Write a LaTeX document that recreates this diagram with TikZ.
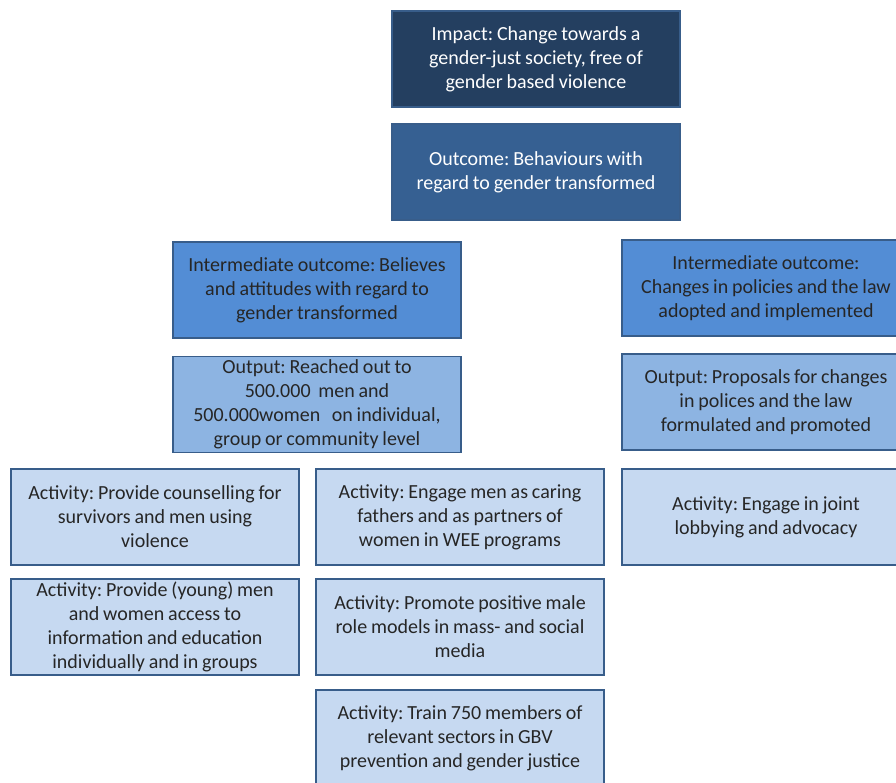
\documentclass[tikz,border=0pt]{standalone}
\usepackage{fontspec}
\setmainfont{Carlito}[WordSpace=0.85]
\frenchspacing
\definecolor{impactblue}{HTML}{243F60}
\definecolor{outcomeblue}{HTML}{366092}
\definecolor{interblue}{HTML}{538DD5}
\definecolor{outputblue}{HTML}{8DB4E2}
\definecolor{activityblue}{HTML}{C6D9F1}
\definecolor{edgeblue}{HTML}{385D8A}
\definecolor{darktext}{HTML}{262626}
\tikzset{
  frame/.style={draw=edgeblue, line width=0.8pt, minimum width=144pt, minimum height=48pt,
    align=center, inner sep=1pt, font=\fontsize{10}{12}\selectfont},
  impactbox/.style={frame, fill=impactblue, text=white},
  outcomebox/.style={frame, fill=outcomeblue, text=white},
  interbox/.style={frame, fill=interblue, text=darktext},
  outputbox/.style={frame, fill=outputblue, text=darktext},
  activitybox/.style={frame, fill=activityblue, text=darktext}
}
\begin{document}
\begin{tikzpicture}[x=0.5pt, y=-0.5pt]
    \useasboundingbox[fill=white] (0,0) rectangle (896,783);

    \node[impactbox] (impact) at (536,59) {Impact: Change towards a\\ gender-just society, free of\\ gender based violence};
    \node[outcomebox] (outcome) at (536,172) {Outcome: Behaviours with\\ regard to gender transformed};

    \node[interbox] (interL) at (317,290) {Intermediate outcome: Believes\\ and attitudes with regard to\\ gender transformed};
    \node[interbox] (interR) at (766,288) {Intermediate outcome:\\ Changes in policies and the law\\ adopted and implemented};

    \node[outputbox] (outputL) at (317,404.5) {Output: Reached out to\\ 500.000\ \ men and\\ 500.000women\ \ \ on individual,\\ group or community level};
    \node[outputbox] (outputR) at (766,402) {Output: Proposals for changes\\ in polices and the law\\ formulated and promoted};

    \node[activitybox] (counsel) at (155,517) {Activity: Provide counselling for\\ survivors and men using\\ violence};
    \node[activitybox] (fathers) at (460,517) {Activity: Engage men as caring\\ fathers and as partners of\\ women in WEE programs};
    \node[activitybox] (lobby) at (766,517) {Activity: Engage in joint\\ lobbying and advocacy};

    \node[activitybox] (access) at (155,627) {Activity: Provide (young) men\\ and women access to\\ information and education\\ individually and in groups};
    \node[activitybox] (models) at (460,627) {Activity: Promote positive male\\ role models in mass- and social\\ media};

    \node[activitybox] (train) at (460,738) {Activity: Train 750 members of\\ relevant sectors in GBV\\ prevention and gender justice};
  \end{tikzpicture}
\end{document}
